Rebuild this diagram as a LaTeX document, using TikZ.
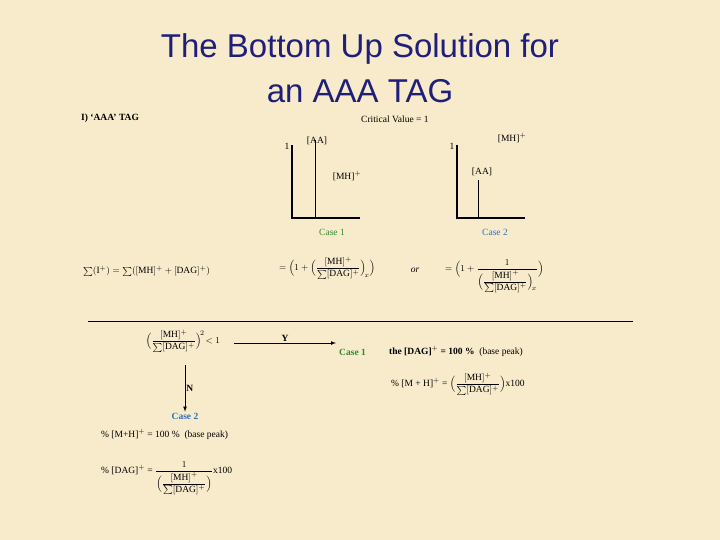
\documentclass[tikz,border=0pt]{standalone}
\usepackage{fontspec}
\usepackage{amsmath}
\setmainfont{Liberation Serif}
\newfontfamily\titlefont{Liberation Sans}
\definecolor{bg}{HTML}{F7EBCB}
\definecolor{ttl}{HTML}{1F1F7A}
\definecolor{cgreen}{HTML}{2E8B2E}
\definecolor{cblue}{HTML}{2F6FC0}
\begin{document}
\begin{tikzpicture}[x=1pt,y=-1pt,
  txt/.style={inner sep=1pt,font=\fontsize{9.5}{10.5}\selectfont},
  bld/.style={txt,font=\bfseries\fontsize{9.5}{10.5}\selectfont},
  ax/.style={line width=1.3pt},
  pk/.style={line width=0.8pt},
  arr/.style={-latex,line width=0.7pt}]
\fill[bg] (0,0) rectangle (720,540);
\useasboundingbox (0,0) rectangle (720,540);
\node[font=\titlefont\fontsize{33}{45}\selectfont,text=ttl,align=center] (title) at (360,68) {The Bottom Up Solution for\\an AAA TAG};
\node[bld,anchor=west] (hdr) at (80,118) {I) `AAA' TAG};
\node[txt,anchor=west] (crit) at (360,119) {Critical Value = 1};
% graph 1
\coordinate (o1) at (292,218);
\draw[ax] (292,145) -- (o1) -- (360,218);
\draw[pk] (315,140) -- (315,218);
\node[txt] (one1) at (287,146) {1};
\node[txt,anchor=south] (aa1) at (317,146) {[AA]};
\node[txt] (mh1) at (347,176) {[MH]$^{+}$};
\node[txt,text=cgreen] (c1) at (332,232) {Case 1};
% graph 2
\coordinate (o2) at (457,218);
\draw[ax] (457,145) -- (o2) -- (525,218);
\draw[pk] (478,180) -- (478,218);
\node[txt] (one2) at (452,146) {1};
\node[txt] (aa2) at (482,172) {[AA]};
\node[txt] (mh2) at (512,138) {[MH]$^{+}$};
\node[txt,text=cblue] (c2) at (495,232) {Case 2};
% formulas row
\node[txt,anchor=west] (sum) at (82,271) {$\sum(\mathrm{I}^{+}) = \sum([\mathrm{MH}]^{+} + [\mathrm{DAG}]^{+})$};
\node[txt,anchor=west] (f1) at (278,268) {$= \Bigl(1+\Bigl(\dfrac{[\mathrm{MH}]^{+}}{\sum[\mathrm{DAG}]^{+}}\Bigr)_{\!x}\Bigr)$};
\node[txt] (or) at (415,270) {\itshape or};
\node[txt,anchor=west] (f2) at (444,276) {$= \Bigl(1+\dfrac{1}{\Bigl(\dfrac{[\mathrm{MH}]^{+}}{\sum[\mathrm{DAG}]^{+}}\Bigr)_{\!x}}\Bigr)$};
\draw[line width=0.6pt] (88,321) -- (633,321);
% decision
\node[txt] (ineq) at (183,341) {$\Bigl(\dfrac{[\mathrm{MH}]^{+}}{\sum[\mathrm{DAG}]^{+}}\Bigr)^{\!2}\!<1$};
\node[bld,text=cgreen,anchor=west] (case1) at (338,352) {Case 1};
\draw[arr] (234,343) -- node[above,bld]{Y} (336,343);
\node[txt,anchor=west] (base1) at (388,351) {\textbf{the [DAG]$^{+}$ = 100 \%}\ \ (base peak)};
\node[txt,anchor=west] (pct1) at (390,384) {\% [M + H]$^{+}$ = $\Bigl(\dfrac{[\mathrm{MH}]^{+}}{\sum[\mathrm{DAG}]^{+}}\Bigr)$x100};
\node[bld,text=cblue] (case2) at (185,416) {Case 2};
\draw[arr] (185,365) -- node[right,bld]{N} (case2.north);
\node[txt,anchor=west] (base2) at (100,434) {\% [M+H]$^{+}$ = 100 \%\ \ (base peak)};
\node[txt,anchor=west] (pct2) at (100,478) {\% [DAG]$^{+}$ = $\dfrac{1}{\Bigl(\dfrac{[\mathrm{MH}]^{+}}{\sum[\mathrm{DAG}]^{+}}\Bigr)}$x100};
\end{tikzpicture}
\end{document}
